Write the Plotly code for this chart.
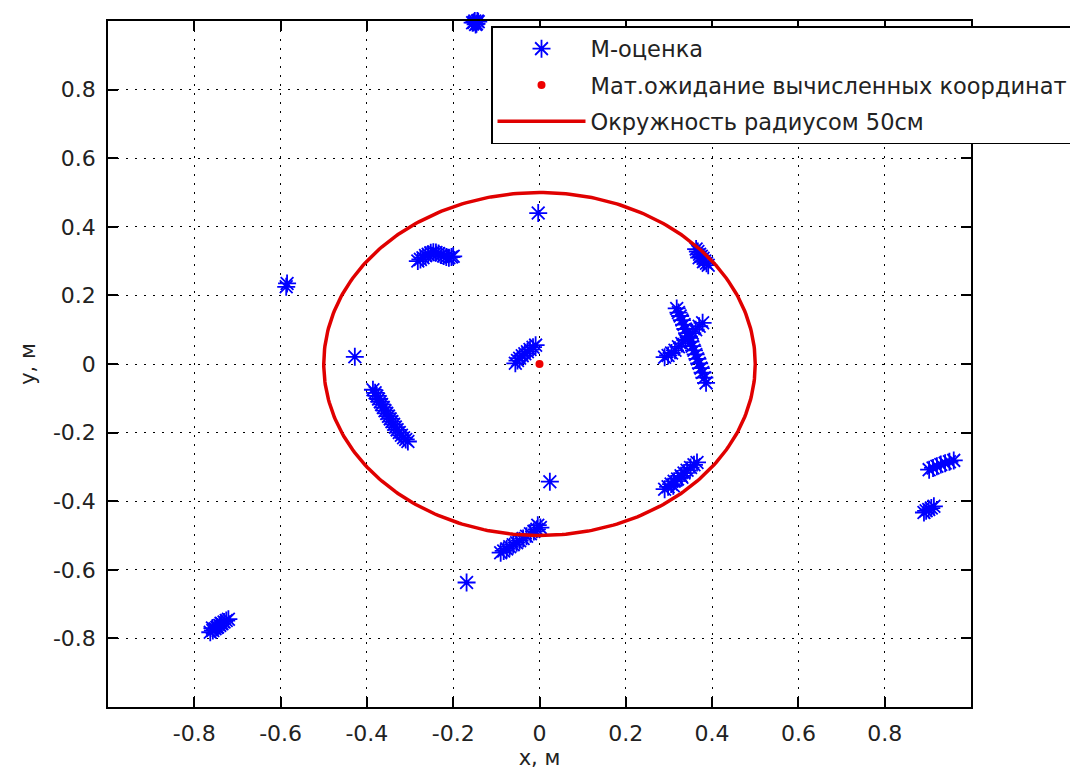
import numpy as np
import plotly.graph_objects as go

# ---- data ----
m_est_x = [
    # top blob (at upper edge)
    -0.155, -0.150, -0.146, -0.142, -0.148, -0.152, -0.144,
    # isolated left point
    -0.585, -0.587,
    # arc cluster upper-left
    -0.282, -0.276, -0.270, -0.264, -0.258, -0.252, -0.246, -0.240, -0.234,
    -0.228, -0.222, -0.216, -0.210, -0.204, -0.200,
    # single point left of origin
    -0.428,
    # diagonal cluster left
    -0.386, -0.381, -0.377, -0.373, -0.369, -0.366, -0.362, -0.358, -0.354,
    -0.350, -0.346, -0.342, -0.338, -0.334, -0.330, -0.325, -0.320, -0.315,
    -0.310, -0.305,
    # cluster near origin
    -0.056, -0.051, -0.046, -0.040, -0.034, -0.028, -0.022, -0.015, -0.009,
    # single points
    -0.003, 0.024,
    # bottom cluster near circle
    -0.090, -0.083, -0.076, -0.069, -0.061, -0.053, -0.046, -0.038, -0.030,
    -0.021, -0.013, -0.006, 0.002, -0.004,
    # single point bottom
    -0.169,
    # bottom-left cluster
    -0.763, -0.757, -0.752, -0.746, -0.741, -0.736, -0.731, -0.726, -0.721,
    -0.758, -0.748, -0.738,
    # upper-right near circle
    0.363, 0.367, 0.371, 0.375, 0.379, 0.383, 0.387, 0.391, 0.370, 0.380,
    # X cluster arm A
    0.318, 0.322, 0.326, 0.330, 0.335, 0.338, 0.342, 0.346, 0.350, 0.354,
    0.358, 0.362, 0.366, 0.370, 0.374, 0.378, 0.382, 0.386,
    # X cluster arm B
    0.378, 0.370, 0.362, 0.354, 0.346, 0.338, 0.330, 0.322, 0.314, 0.306,
    0.298, 0.290,
    # bottom-right inside circle
    0.290, 0.298, 0.305, 0.312, 0.320, 0.328, 0.335, 0.342, 0.350, 0.358,
    0.365, 0.310, 0.330,
    # far right upper
    0.903, 0.912, 0.921, 0.930, 0.940, 0.950, 0.960,
    # far right lower
    0.891, 0.896, 0.902, 0.908, 0.914,
]
m_est_y = [
    0.995, 1.000, 0.992, 0.998, 0.990, 0.996, 1.000,
    0.235, 0.225,
    0.300, 0.305, 0.310, 0.316, 0.320, 0.324, 0.326, 0.325, 0.322,
    0.318, 0.315, 0.312, 0.310, 0.312, 0.314,
    0.021,
    -0.075, -0.084, -0.093, -0.102, -0.110, -0.118, -0.127, -0.136, -0.144,
    -0.152, -0.160, -0.168, -0.176, -0.184, -0.192, -0.200, -0.208, -0.215,
    -0.220, -0.226,
    0.002, 0.010, 0.017, 0.024, 0.030, 0.036, 0.042, 0.049, 0.055,
    0.440, -0.343,
    -0.550, -0.545, -0.539, -0.533, -0.527, -0.521, -0.515, -0.509, -0.502,
    -0.495, -0.488, -0.482, -0.477, -0.470,
    -0.637,
    -0.782, -0.777, -0.772, -0.767, -0.762, -0.757, -0.752, -0.748, -0.744,
    -0.770, -0.768, -0.756,
    0.335, 0.328, 0.320, 0.314, 0.308, 0.300, 0.294, 0.288, 0.310, 0.298,
    0.162, 0.150, 0.140, 0.128, 0.115, 0.102, 0.090, 0.078, 0.065, 0.052,
    0.040, 0.028, 0.015, 0.002, -0.012, -0.025, -0.040, -0.055,
    0.120, 0.110, 0.100, 0.090, 0.080, 0.070, 0.060, 0.050, 0.040, 0.032,
    0.025, 0.020,
    -0.365, -0.358, -0.350, -0.342, -0.335, -0.326, -0.318, -0.310, -0.302,
    -0.294, -0.287, -0.355, -0.330,
    -0.308, -0.303, -0.298, -0.293, -0.289, -0.285, -0.281,
    -0.433, -0.428, -0.424, -0.420, -0.415,
]
mean_x = [0.0]
mean_y = [0.0]
circle_radius = 0.5

tick_vals = [-0.8, -0.6, -0.4, -0.2, 0.0, 0.2, 0.4, 0.6, 0.8]
tick_text = ["-0.8", "-0.6", "-0.4", "-0.2", "0", "0.2", "0.4", "0.6", "0.8"]

names = ["М-оценка", "Мат.ожидание вычисленных координат", "Окружность радиусом 50см"]

theta = np.linspace(0, 2 * np.pi, 361)
circ_x = circle_radius * np.cos(theta)
circ_y = circle_radius * np.sin(theta)

FONT = "DejaVu Sans"

fig = go.Figure()
fig.add_trace(go.Scatter(
    x=m_est_x, y=m_est_y, mode="markers", name=names[0], legendgroup="a",
    marker=dict(symbol="asterisk-open", size=15, color="#0000ff",
                line=dict(color="#0000ff", width=1.8)),
    cliponaxis=False,
))
fig.add_trace(go.Scatter(
    x=mean_x, y=mean_y, mode="markers", name=names[1], legendgroup="b",
    marker=dict(symbol="circle", size=8, color="#ee0000"),
))
fig.add_trace(go.Scatter(
    x=circ_x, y=circ_y, mode="lines", name=names[2], legendgroup="c",
    line=dict(color="#e00000", width=3.5),
))

axis_common = dict(
    range=[-1, 1], tickvals=tick_vals, ticktext=tick_text,
    showline=True, linecolor="#000000", linewidth=1.5, mirror="allticks",
    ticks="inside", ticklen=10, tickwidth=1.5, tickcolor="#000000",
    showgrid=True, gridcolor="#000000", gridwidth=1.4, griddash="2px,7px",
    zeroline=False, ticklabelstandoff=6, automargin=False,
    tickfont=dict(family=FONT, size=22, color="#222222"),
)

fig.update_layout(
    width=1078, height=769,
    margin=dict(l=100, r=106, t=13, b=70),
    paper_bgcolor="white", plot_bgcolor="white",
    font=dict(family=FONT, size=22, color="#222222"),
    xaxis=dict(**axis_common,
               title=dict(text="x, м", font=dict(family=FONT, size=21), standoff=0)),
    yaxis=dict(**axis_common,
               title=dict(text="y, м", font=dict(family=FONT, size=21), standoff=12)),
    legend=dict(
        x=(487 - 100) / 872, y=(699 - 18) / 686, xanchor="left", yanchor="top",
        bgcolor="white", bordercolor="#000000", borderwidth=1.5,
        font=dict(family=FONT, size=22.5, color="#222222"),
        itemwidth=88, traceorder="grouped", tracegroupgap=4,
    ),
    showlegend=True,
)

fig.write_html("out.html")
